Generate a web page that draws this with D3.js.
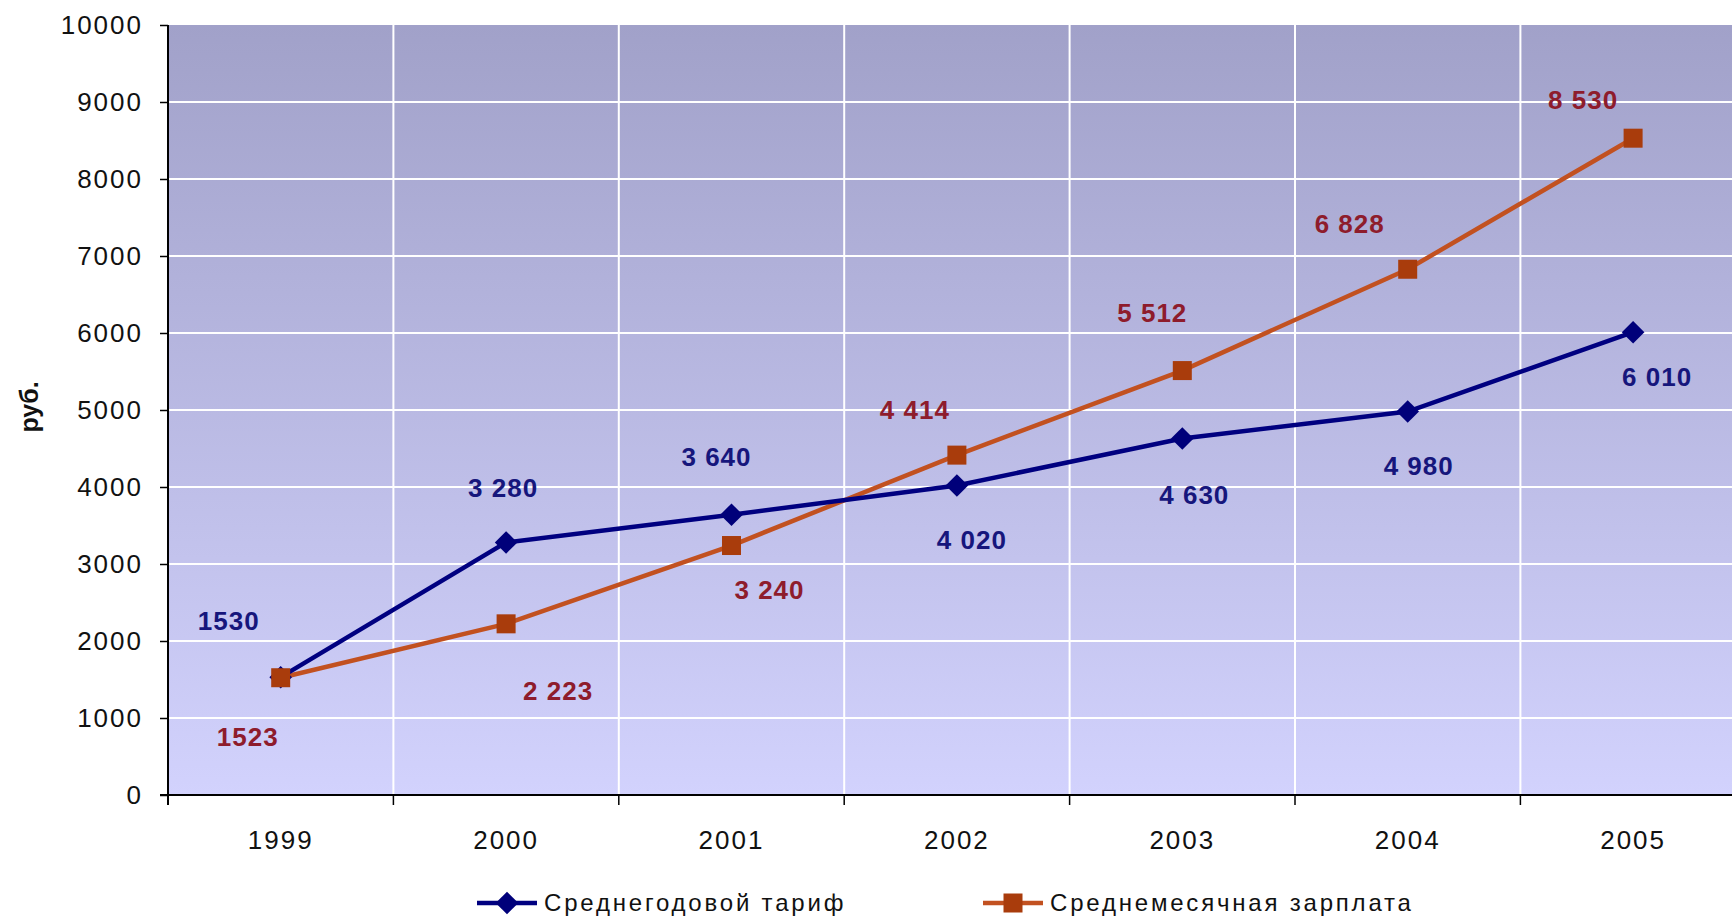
<!DOCTYPE html>
<html>
<head>
<meta charset="utf-8">
<script src="https://cdn.jsdelivr.net/npm/d3@7"></script>
<style>
  body { margin: 0; background: #fff; }
  svg { display: block; font-family: "Liberation Sans", Arial, sans-serif; }
</style>
</head>
<body>
<div id="chart"></div>
<script>
var years = ['1999', '2000', '2001', '2002', '2003', '2004', '2005'];
var tarif = [1530, 3280, 3640, 4020, 4630, 4980, 6010];
var zarplata = [1523, 2223, 3240, 4414, 5512, 6828, 8530];
var tarifLabels = ['1530', '3 280', '3 640', '4 020', '4 630', '4 980', '6 010'];
var zarplataLabels = ['1523', '2 223', '3 240', '4 414', '5 512', '6 828', '8 530'];
var yTicks = [0, 1000, 2000, 3000, 4000, 5000, 6000, 7000, 8000, 9000, 10000];
var seriesNames = ['Среднегодовой тариф', 'Среднемесячная зарплата'];

// label nudges (px from the point), the labels were placed by hand in the original
var tarifNudge = [[-52, -56], [-3, -54], [-15, -58], [15, 55], [12, 57], [11, 54], [24, 45]];
var zarplataNudge = [[-33, 59], [52, 67], [38, 44], [-42, -45], [-30, -58], [-58, -45], [-50, -38]];

var W = 1732, H = 917;
var plotLeft = 168, plotTop = 25, plotBottom = 795;
var band = 225.4;

var svg = d3.select('#chart').append('svg')
  .attr('width', W)
  .attr('height', H);

var x = d3.scaleBand()
  .domain(years)
  .range([plotLeft, plotLeft + band * years.length])
  .paddingInner(0)
  .paddingOuter(0);

var y = d3.scaleLinear()
  .domain([0, 10000])
  .range([plotBottom, plotTop]);

var defs = svg.append('defs');
var grad = defs.append('linearGradient')
  .attr('id', 'bg')
  .attr('x1', 0).attr('y1', 0).attr('x2', 0).attr('y2', 1);
grad.append('stop').attr('offset', '0%').attr('stop-color', '#a1a1c9');
grad.append('stop').attr('offset', '100%').attr('stop-color', '#d2d2fd');

// plot background
svg.append('rect')
  .attr('x', plotLeft)
  .attr('y', plotTop)
  .attr('width', x.range()[1] - plotLeft)
  .attr('height', plotBottom - plotTop)
  .attr('fill', 'url(#bg)');

// horizontal grid
svg.selectAll('.hgrid')
  .data(yTicks.slice(1, -1))
  .enter().append('line')
  .attr('class', 'hgrid')
  .attr('x1', plotLeft)
  .attr('x2', x.range()[1])
  .attr('y1', function(d) { return y(d); })
  .attr('y2', function(d) { return y(d); })
  .attr('stroke', '#fff')
  .attr('stroke-width', 2);

// vertical grid on category boundaries
svg.selectAll('.vgrid')
  .data(years.slice(1))
  .enter().append('line')
  .attr('class', 'vgrid')
  .attr('x1', function(d) { return x(d); })
  .attr('x2', function(d) { return x(d); })
  .attr('y1', plotTop)
  .attr('y2', plotBottom)
  .attr('stroke', '#fff')
  .attr('stroke-width', 2);

// y axis
var yAxis = svg.append('g')
  .attr('transform', 'translate(' + plotLeft + ',0)')
  .call(d3.axisLeft(y).tickValues(yTicks).tickFormat(d3.format('d')).tickSize(8).tickPadding(17));
yAxis.select('.domain').attr('stroke', '#000').attr('stroke-width', 2)
  .attr('d', 'M0,' + plotTop + 'V' + (plotBottom + 10));
yAxis.selectAll('.tick line').attr('stroke', '#000').attr('stroke-width', 1.5);
yAxis.selectAll('.tick text')
  .attr('font-size', 26)
  .attr('letter-spacing', 2)
  .attr('fill', '#111');

// x axis: labels centred, ticks on boundaries
var xAxis = svg.append('g')
  .attr('transform', 'translate(0,' + plotBottom + ')')
  .call(d3.axisBottom(x).tickSize(0).tickPadding(36));
xAxis.select('.domain').remove();
xAxis.selectAll('.tick text')
  .attr('font-size', 26)
  .attr('letter-spacing', 2)
  .attr('fill', '#111');

svg.append('line')
  .attr('x1', plotLeft - 8).attr('x2', x.range()[1])
  .attr('y1', plotBottom).attr('y2', plotBottom)
  .attr('stroke', '#000').attr('stroke-width', 2);

svg.selectAll('.xtick')
  .data(years.slice(1))
  .enter().append('line')
  .attr('class', 'xtick')
  .attr('x1', function(d) { return x(d); })
  .attr('x2', function(d) { return x(d); })
  .attr('y1', plotBottom)
  .attr('y2', plotBottom + 10)
  .attr('stroke', '#000')
  .attr('stroke-width', 1.5);

// y axis title
svg.append('text')
  .attr('transform', 'translate(38,407) rotate(-90)')
  .attr('text-anchor', 'middle')
  .attr('font-size', 25)
  .attr('font-weight', 'bold')
  .attr('fill', '#111')
  .text('руб.');

var cx = function(i) { return x(years[i]) + x.bandwidth() / 2; };

var line = d3.line()
  .x(function(d, i) { return cx(i); })
  .y(function(d) { return y(d); });

// Среднемесячная зарплата
svg.append('path')
  .datum(zarplata)
  .attr('d', line)
  .attr('fill', 'none')
  .attr('stroke', '#c25120')
  .attr('stroke-width', 4.5);

// Среднегодовой тариф
svg.append('path')
  .datum(tarif)
  .attr('d', line)
  .attr('fill', 'none')
  .attr('stroke', '#000080')
  .attr('stroke-width', 4.5);

svg.selectAll('.diamond')
  .data(tarif)
  .enter().append('rect')
  .attr('class', 'diamond')
  .attr('x', -8).attr('y', -8)
  .attr('width', 16).attr('height', 16)
  .attr('transform', function(d, i) { return 'translate(' + cx(i) + ',' + y(d) + ') rotate(45)'; })
  .attr('fill', '#00007a');

svg.selectAll('.square')
  .data(zarplata)
  .enter().append('rect')
  .attr('class', 'square')
  .attr('x', function(d, i) { return cx(i) - 9.5; })
  .attr('y', function(d) { return y(d) - 9.5; })
  .attr('width', 19).attr('height', 19)
  .attr('fill', '#a93c0c');

// data labels
svg.selectAll('.tarif-label')
  .data(tarif)
  .enter().append('text')
  .attr('class', 'tarif-label')
  .attr('x', function(d, i) { return cx(i) + tarifNudge[i][0]; })
  .attr('y', function(d, i) { return y(d) + tarifNudge[i][1]; })
  .attr('text-anchor', 'middle')
  .attr('dominant-baseline', 'central')
  .attr('font-size', 26)
  .attr('font-weight', 'bold')
  .attr('letter-spacing', 1)
  .attr('fill', '#16167c')
  .text(function(d, i) { return tarifLabels[i]; });

svg.selectAll('.zarplata-label')
  .data(zarplata)
  .enter().append('text')
  .attr('class', 'zarplata-label')
  .attr('x', function(d, i) { return cx(i) + zarplataNudge[i][0]; })
  .attr('y', function(d, i) { return y(d) + zarplataNudge[i][1]; })
  .attr('text-anchor', 'middle')
  .attr('dominant-baseline', 'central')
  .attr('font-size', 26)
  .attr('font-weight', 'bold')
  .attr('letter-spacing', 1)
  .attr('fill', '#8e1c2c')
  .text(function(d, i) { return zarplataLabels[i]; });

// legend
var legend = svg.append('g');
var items = [
  { name: seriesNames[0], x: 477, color: '#000080', marker: 'diamond' },
  { name: seriesNames[1], x: 983, color: '#c25120', marker: 'square' }
];
var ly = 903;
items.forEach(function(it) {
  legend.append('line')
    .attr('x1', it.x).attr('x2', it.x + 60)
    .attr('y1', ly).attr('y2', ly)
    .attr('stroke', it.color).attr('stroke-width', 4.5);
  if (it.marker === 'diamond') {
    legend.append('rect')
      .attr('x', -8).attr('y', -8).attr('width', 16).attr('height', 16)
      .attr('transform', 'translate(' + (it.x + 30) + ',' + ly + ') rotate(45)')
      .attr('fill', '#00007a');
  } else {
    legend.append('rect')
      .attr('x', it.x + 30 - 9.5).attr('y', ly - 9.5).attr('width', 19).attr('height', 19)
      .attr('fill', '#a93c0c');
  }
  legend.append('text')
    .attr('x', it.x + 67)
    .attr('y', ly + 8)
    .attr('font-size', 24)
    .attr('letter-spacing', 2.8)
    .attr('fill', '#111')
    .text(it.name);
});
</script>
</body>
</html>
